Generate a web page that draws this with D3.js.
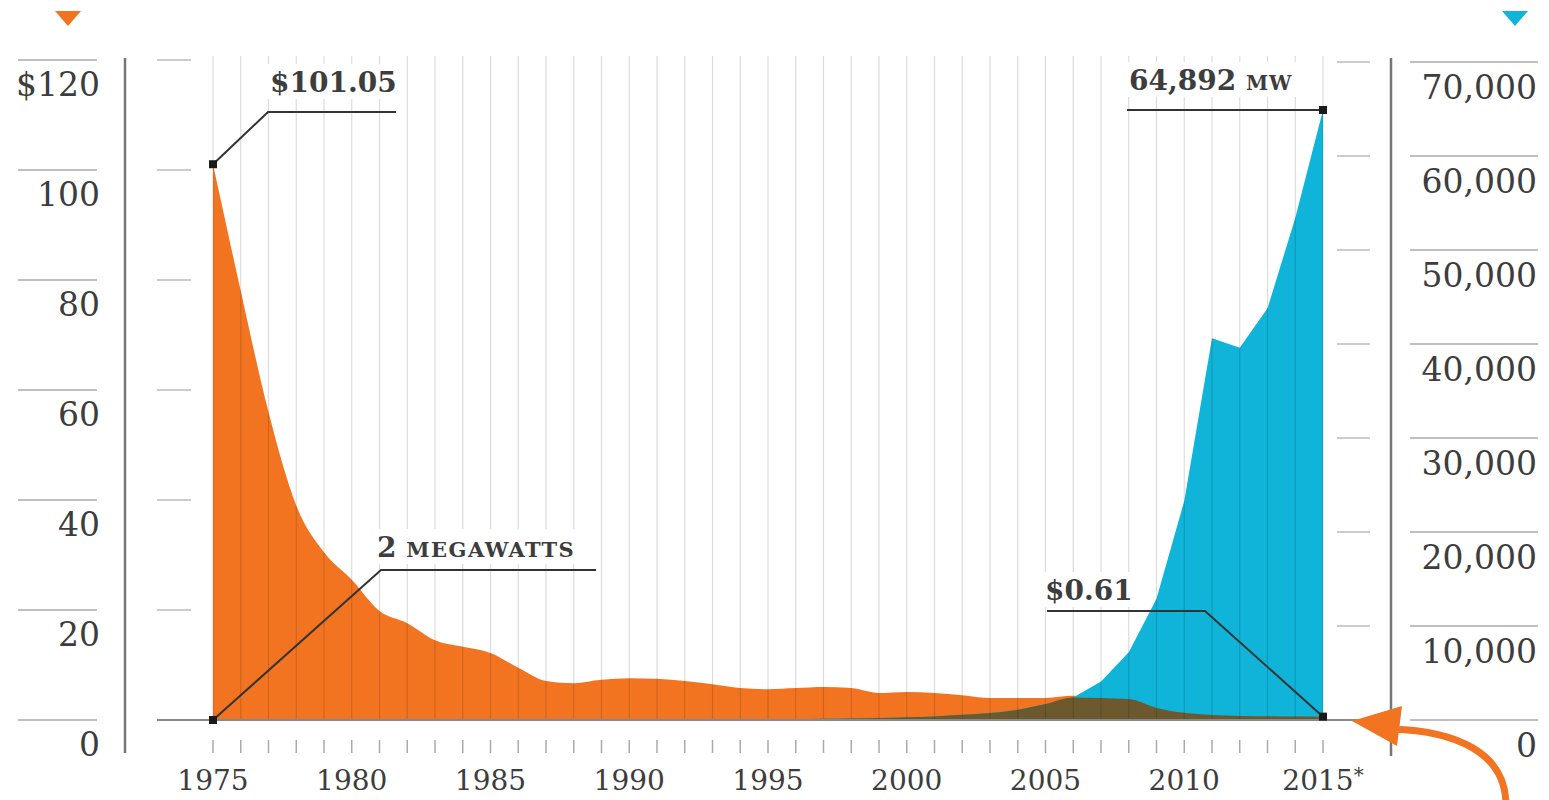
<!DOCTYPE html>
<html>
<head>
<meta charset="utf-8">
<script src="https://cdn.jsdelivr.net/npm/d3@7/dist/d3.min.js"></script>
<style>
  body { margin: 0; background: #fff; }
  svg text { font-family: 'DejaVu Serif', Georgia, serif; fill: #3d3d3d; }
</style>
</head>
<body>
<svg id="chart" width="1549" height="800"></svg>
<script>
// years on the x axis
var years = [1975, 1976, 1977, 1978, 1979, 1980, 1981, 1982, 1983, 1984,
             1985, 1986, 1987, 1988, 1989, 1990, 1991, 1992, 1993, 1994,
             1995, 1996, 1997, 1998, 1999, 2000, 2001, 2002, 2003, 2004,
             2005, 2006, 2007, 2008, 2009, 2010, 2011, 2012, 2013, 2014, 2015];

// price per watt, dollars (left axis)
var price = [101.05, 78, 56, 39, 30.5, 25.5, 19.8, 17.6, 14.5, 13.3,
             12.2, 9.5, 7.1, 6.7, 7.3, 7.6, 7.5, 7.1, 6.5, 5.8,
             5.6, 5.8, 6.0, 5.8, 4.9, 5.1, 4.9, 4.5, 4.0, 4.0,
             4.0, 4.4, 4.0, 3.8, 2.2, 1.3, 0.9, 0.75, 0.7, 0.65, 0.61];

// installed capacity, megawatts (right axis)
var capacity = [2, 3, 4, 6, 8, 10, 12, 15, 18, 20,
                25, 30, 35, 40, 45, 50, 55, 60, 60, 70,
                80, 90, 120, 150, 200, 280, 380, 550, 750, 1100,
                1700, 2400, 4100, 7200, 12900, 23300, 40600, 39600, 43800, 53400, 64892];

var priceTicks = [0, 20, 40, 60, 80, 100, 120];
var capacityTicks = [0, 10000, 20000, 30000, 40000, 50000, 60000, 70000];
var yearLabels = [1975, 1980, 1985, 1990, 1995, 2000, 2005, 2010, 2015];

var orange = '#f27421';
var blue = '#0fb4d8';
var olive = '#6c5a2e';

var data = years.map(function(y, i) {
	return {'year': y, 'price': price[i], 'cap': capacity[i]};
});

var svg = d3.select('#chart');

var x_conv = d3.scaleLinear().domain([1975, 2015]).range([213, 1323]);
var yl_conv = d3.scaleLinear().domain([0, 120]).range([720, 60]);
var yr_conv = d3.scaleLinear().domain([0, 70000]).range([720, 62]);

// areas
var area_price = d3.area()
	.x(function(d) { return x_conv(d.year); })
	.y0(yl_conv(0))
	.y1(function(d) { return yl_conv(d.price); })
	.curve(d3.curveMonotoneX);

var area_cap = d3.area()
	.x(function(d) { return x_conv(d.year); })
	.y0(yr_conv(0))
	.y1(function(d) { return yr_conv(d.cap); });

// where the two overlap
var area_both = d3.area()
	.x(function(d) { return x_conv(d.year); })
	.y0(yl_conv(0))
	.y1(function(d) { return Math.max(yl_conv(d.price), yr_conv(d.cap)); })
	.curve(d3.curveMonotoneX);

svg.append('path').datum(data).attr('d', area_price).attr('fill', orange);
svg.append('path').datum(data).attr('d', area_cap).attr('fill', blue);
svg.append('path').datum(data).attr('d', area_both).attr('fill', olive);

// vertical year grid, over the areas
svg.selectAll('line.vgrid')
	.data(years).enter()
	.append('line')
	.attr('class', 'vgrid')
	.attr('x1', function(d) { return x_conv(d); })
	.attr('x2', function(d) { return x_conv(d); })
	.attr('y1', 56)
	.attr('y2', yl_conv(0))
	.attr('stroke', '#000')
	.attr('stroke-opacity', 0.14)
	.attr('stroke-width', 1.2);

// year tick marks under the baseline
svg.selectAll('line.ytick')
	.data(years).enter()
	.append('line')
	.attr('x1', function(d) { return x_conv(d); })
	.attr('x2', function(d) { return x_conv(d); })
	.attr('y1', 740)
	.attr('y2', 753)
	.attr('stroke', '#aaa')
	.attr('stroke-width', 1.5);

svg.selectAll('text.year')
	.data(yearLabels).enter()
	.append('text')
	.attr('x', function(d) { return x_conv(d); })
	.attr('y', 790)
	.attr('text-anchor', 'middle')
	.attr('font-size', 28)
	.text(function(d) { return d; })
	.filter(function(d) { return d == 2015; })
	.append('tspan')
	.attr('dy', -8)
	.attr('font-size', 20)
	.text('*');

// baseline
svg.append('line')
	.attr('x1', 157).attr('x2', 1360)
	.attr('y1', yl_conv(0)).attr('y2', yl_conv(0))
	.attr('stroke', '#888').attr('stroke-width', 2);

// left axis
svg.append('line')
	.attr('x1', 125).attr('x2', 125)
	.attr('y1', 58).attr('y2', 753)
	.attr('stroke', '#777').attr('stroke-width', 2.5);

svg.selectAll('line.lgrid')
	.data(priceTicks).enter()
	.append('line')
	.attr('x1', 18).attr('x2', 97)
	.attr('y1', function(d) { return yl_conv(d); })
	.attr('y2', function(d) { return yl_conv(d); })
	.attr('stroke', '#aaa').attr('stroke-width', 1.5);

svg.selectAll('line.lshort')
	.data(priceTicks.filter(function(d) { return d > 0; })).enter()
	.append('line')
	.attr('x1', 157).attr('x2', 191)
	.attr('y1', function(d) { return yl_conv(d); })
	.attr('y2', function(d) { return yl_conv(d); })
	.attr('stroke', '#bbb').attr('stroke-width', 1.5);

svg.selectAll('text.lab_left')
	.data(priceTicks).enter()
	.append('text')
	.attr('x', 100)
	.attr('y', function(d) { return yl_conv(d) + 36; })
	.attr('text-anchor', 'end')
	.attr('font-size', 33)
	.text(function(d) { return d == 120 ? '$' + d : d; });

// right axis
svg.append('line')
	.attr('x1', 1391).attr('x2', 1391)
	.attr('y1', 58).attr('y2', 756)
	.attr('stroke', '#777').attr('stroke-width', 2.5);

svg.selectAll('line.rgrid')
	.data(capacityTicks).enter()
	.append('line')
	.attr('x1', 1410).attr('x2', 1538)
	.attr('y1', function(d) { return yr_conv(d); })
	.attr('y2', function(d) { return yr_conv(d); })
	.attr('stroke', '#aaa').attr('stroke-width', 1.5);

svg.selectAll('line.rshort')
	.data(capacityTicks.filter(function(d) { return d > 0; })).enter()
	.append('line')
	.attr('x1', 1337).attr('x2', 1370)
	.attr('y1', function(d) { return yr_conv(d); })
	.attr('y2', function(d) { return yr_conv(d); })
	.attr('stroke', '#bbb').attr('stroke-width', 1.5);

svg.selectAll('text.lab_right')
	.data(capacityTicks).enter()
	.append('text')
	.attr('x', 1537)
	.attr('y', function(d) { return yr_conv(d) + 37; })
	.attr('text-anchor', 'end')
	.attr('font-size', 33)
	.text(function(d) { return d3.format(',')(d); });

// series markers on top
svg.append('path')
	.attr('d', 'M55,11 L81,11 L68,26 Z')
	.attr('fill', orange);
svg.append('path')
	.attr('d', 'M1502,11 L1528,11 L1515,26 Z')
	.attr('fill', blue);

// annotations
var first = data[0];
var last = data[data.length - 1];

function note(parts, tx, ty, points) {
	var g = svg.append('g');
	var bg = g.append('rect').attr('fill', '#fff');
	var t = g.append('text')
		.attr('x', tx).attr('y', ty)
		.attr('font-weight', 'bold')
		.attr('font-size', 28);
	parts.forEach(function(p) {
		t.append('tspan')
			.attr('font-size', p.size)
			.attr('letter-spacing', p.spacing || 0)
			.text(p.text);
	});
	var bb = t.node().getBBox();
	bg.attr('x', bb.x - 4).attr('y', bb.y - 2)
		.attr('width', bb.width + 8).attr('height', bb.height + 2);
	g.append('path')
		.attr('d', d3.line()(points))
		.attr('fill', 'none')
		.attr('stroke', '#333')
		.attr('stroke-width', 2);
	var p0 = points[0];
	g.append('rect')
		.attr('x', p0[0] - 4).attr('y', p0[1] - 4)
		.attr('width', 8).attr('height', 8)
		.attr('fill', '#1a1a1a');
}

var px0 = x_conv(first.year), pxN = x_conv(last.year);

note([{text: '$101.05', size: 28}], 270, 92,
	[[px0, yl_conv(first.price)], [268, 112], [396, 112]]);

note([{text: '64,892 ', size: 28}, {text: 'MW', size: 20, spacing: 1}], 1129, 90,
	[[pxN, yr_conv(last.cap)], [1127, yr_conv(last.cap)]]);

note([{text: '2 ', size: 28}, {text: 'MEGAWATTS', size: 21, spacing: 1.5}], 377, 557,
	[[px0, yr_conv(first.cap)], [381, 570], [596, 570]]);

note([{text: '$0.61', size: 28}], 1045, 600,
	[[pxN, yl_conv(last.price)], [1205, 611], [1047, 611]]);

// curved arrow pointing at the zero line
svg.append('path')
	.attr('d', 'M1392,729 C1455,731 1506,752 1506,805')
	.attr('fill', 'none')
	.attr('stroke', orange)
	.attr('stroke-width', 7);
svg.append('path')
	.attr('d', 'M1352,721 L1402,706 L1397,746 Z')
	.attr('fill', orange);
</script>
</body>
</html>
